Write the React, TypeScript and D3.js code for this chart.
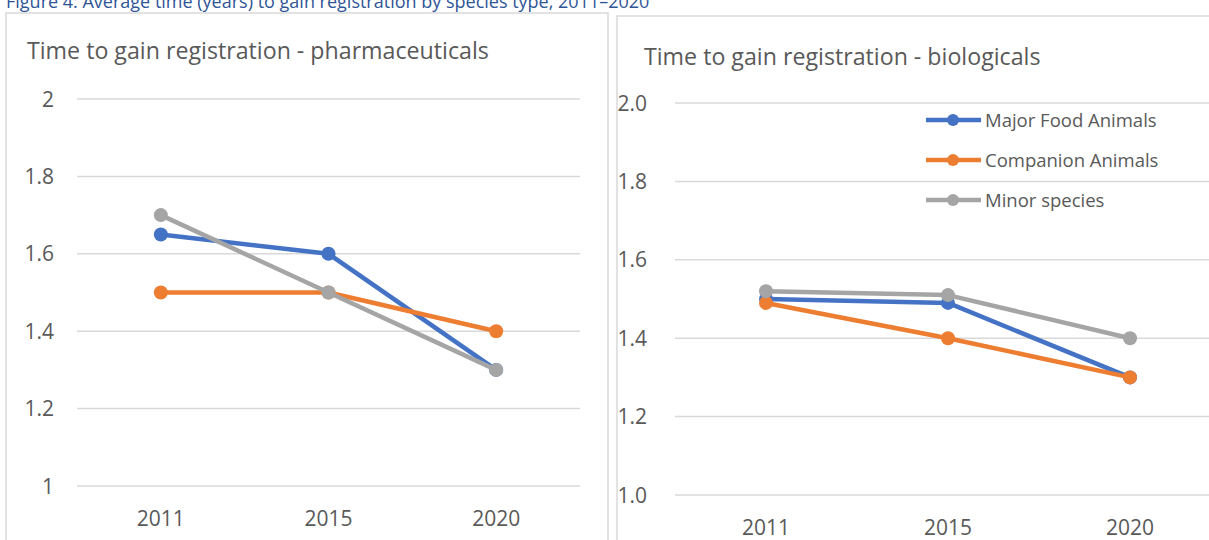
import React, { useEffect, useRef } from "react";
import * as d3 from "d3";

const years = ["2011", "2015", "2020"];
const seriesNames = ["Major Food Animals", "Companion Animals", "Minor species"];
const seriesColors = ["#4472C4", "#ED7D31", "#A5A5A5"];

const pharmaMajor = [1.65, 1.6, 1.3];
const pharmaCompanion = [1.5, 1.5, 1.4];
const pharmaMinor = [1.7, 1.5, 1.3];

const bioMajor = [1.5, 1.49, 1.3];
const bioCompanion = [1.49, 1.4, 1.3];
const bioMinor = [1.52, 1.51, 1.4];

const pharmaTicks = [1, 1.2, 1.4, 1.6, 1.8, 2];
const bioTicks = [1.0, 1.2, 1.4, 1.6, 1.8, 2.0];

const FONT = "'Open Sans', 'Noto Sans', sans-serif";

export default function App() {
  const ref = useRef<SVGSVGElement>(null);

  useEffect(() => {
    const svg = d3.select(ref.current);
    svg.selectAll("*").remove();

    // caption (mostly cut off at top, as in the reference)
    svg
      .append("text")
      .attr("x", 6)
      .attr("y", 8)
      .attr("font-family", FONT)
      .attr("font-size", 18)
      .attr("fill", "#2F5597")
      .text("Figure 4: Average time (years) to gain registration by species type, 2011–2020");

    const drawChart = (opts: {
      boxX: number;
      boxY: number;
      boxW: number;
      boxH: number;
      title: string;
      titleX: number;
      titleY: number;
      x0: number;
      x1: number;
      yTop: number;
      yBot: number;
      ticks: number[];
      fmt: (v: number) => string;
      labelX: number;
      data: number[][];
      legend: boolean;
    }) => {
      const g = svg.append("g");
      g.append("rect")
        .attr("x", opts.boxX)
        .attr("y", opts.boxY)
        .attr("width", opts.boxW)
        .attr("height", opts.boxH)
        .attr("fill", "#fff")
        .attr("stroke", "#D9D9D9")
        .attr("stroke-width", 1.5);

      g.append("text")
        .attr("x", opts.titleX)
        .attr("y", opts.titleY)
        .attr("font-family", FONT)
        .attr("font-size", 23.2)
        .attr("fill", "#595959")
        .text(opts.title);

      const x = d3.scaleBand<string>().domain(years).range([opts.x0, opts.x1]);
      const y = d3.scaleLinear().domain([1, 2]).range([opts.yBot, opts.yTop]);

      g.selectAll("line.grid")
        .data(opts.ticks)
        .join("line")
        .attr("class", "grid")
        .attr("x1", opts.x0)
        .attr("x2", opts.x1)
        .attr("y1", (d) => y(d))
        .attr("y2", (d) => y(d))
        .attr("stroke", "#D9D9D9")
        .attr("stroke-width", 1.5);

      g.selectAll("text.ytick")
        .data(opts.ticks)
        .join("text")
        .attr("class", "ytick")
        .attr("x", opts.labelX)
        .attr("y", (d) => y(d) + 7.5)
        .attr("text-anchor", "end")
        .attr("font-family", FONT)
        .attr("font-size", 21)
        .attr("fill", "#595959")
        .text((d) => opts.fmt(d));

      g.selectAll("text.xtick")
        .data(years)
        .join("text")
        .attr("class", "xtick")
        .attr("x", (d) => (x(d) as number) + x.bandwidth() / 2)
        .attr("y", opts.yBot + 39.5)
        .attr("text-anchor", "middle")
        .attr("font-family", FONT)
        .attr("font-size", 21)
        .attr("fill", "#595959")
        .text((d) => d);

      const line = d3
        .line<number>()
        .x((_, i) => (x(years[i]) as number) + x.bandwidth() / 2)
        .y((d) => y(d));

      opts.data.forEach((vals, si) => {
        const sg = g.append("g");
        sg.append("path")
          .attr("d", line(vals))
          .attr("fill", "none")
          .attr("stroke", seriesColors[si])
          .attr("stroke-width", 4.5)
          .attr("stroke-linejoin", "round");
        sg.selectAll("circle")
          .data(vals)
          .join("circle")
          .attr("cx", (_, i) => (x(years[i]) as number) + x.bandwidth() / 2)
          .attr("cy", (d) => y(d))
          .attr("r", 7)
          .attr("fill", seriesColors[si]);
      });

      if (opts.legend) {
        const lg = g.append("g");
        seriesNames.forEach((name, i) => {
          const ly = 120 + i * 40;
          lg.append("line")
            .attr("x1", 926)
            .attr("x2", 981)
            .attr("y1", ly)
            .attr("y2", ly)
            .attr("stroke", seriesColors[i])
            .attr("stroke-width", 4.5);
          lg.append("circle").attr("cx", 953).attr("cy", ly).attr("r", 6).attr("fill", seriesColors[i]);
          lg.append("text")
            .attr("x", 985)
            .attr("y", ly + 6.5)
            .attr("font-family", FONT)
            .attr("font-size", 18.5)
            .attr("fill", "#595959")
            .text(name);
        });
      }
    };

    drawChart({
      boxX: 6,
      boxY: 13,
      boxW: 602,
      boxH: 560,
      title: "Time to gain registration - pharmaceuticals",
      titleX: 27,
      titleY: 59,
      x0: 77,
      x1: 580,
      yTop: 99,
      yBot: 486,
      ticks: pharmaTicks,
      fmt: (v) => d3.format("~g")(v),
      labelX: 54,
      data: [pharmaMajor, pharmaCompanion, pharmaMinor],
      legend: false,
    });

    drawChart({
      boxX: 617,
      boxY: 16,
      boxW: 620,
      boxH: 560,
      title: "Time to gain registration - biologicals",
      titleX: 644,
      titleY: 65,
      x0: 675,
      x1: 1221,
      yTop: 103,
      yBot: 495,
      ticks: bioTicks,
      fmt: (v) => d3.format(".1f")(v),
      labelX: 647,
      data: [bioMajor, bioCompanion, bioMinor],
      legend: true,
    });
  }, []);

  return (
    <svg
      ref={ref}
      width={1209}
      height={540}
      style={{ position: "fixed", left: 0, top: 0, background: "#fff" }}
    />
  );
}
